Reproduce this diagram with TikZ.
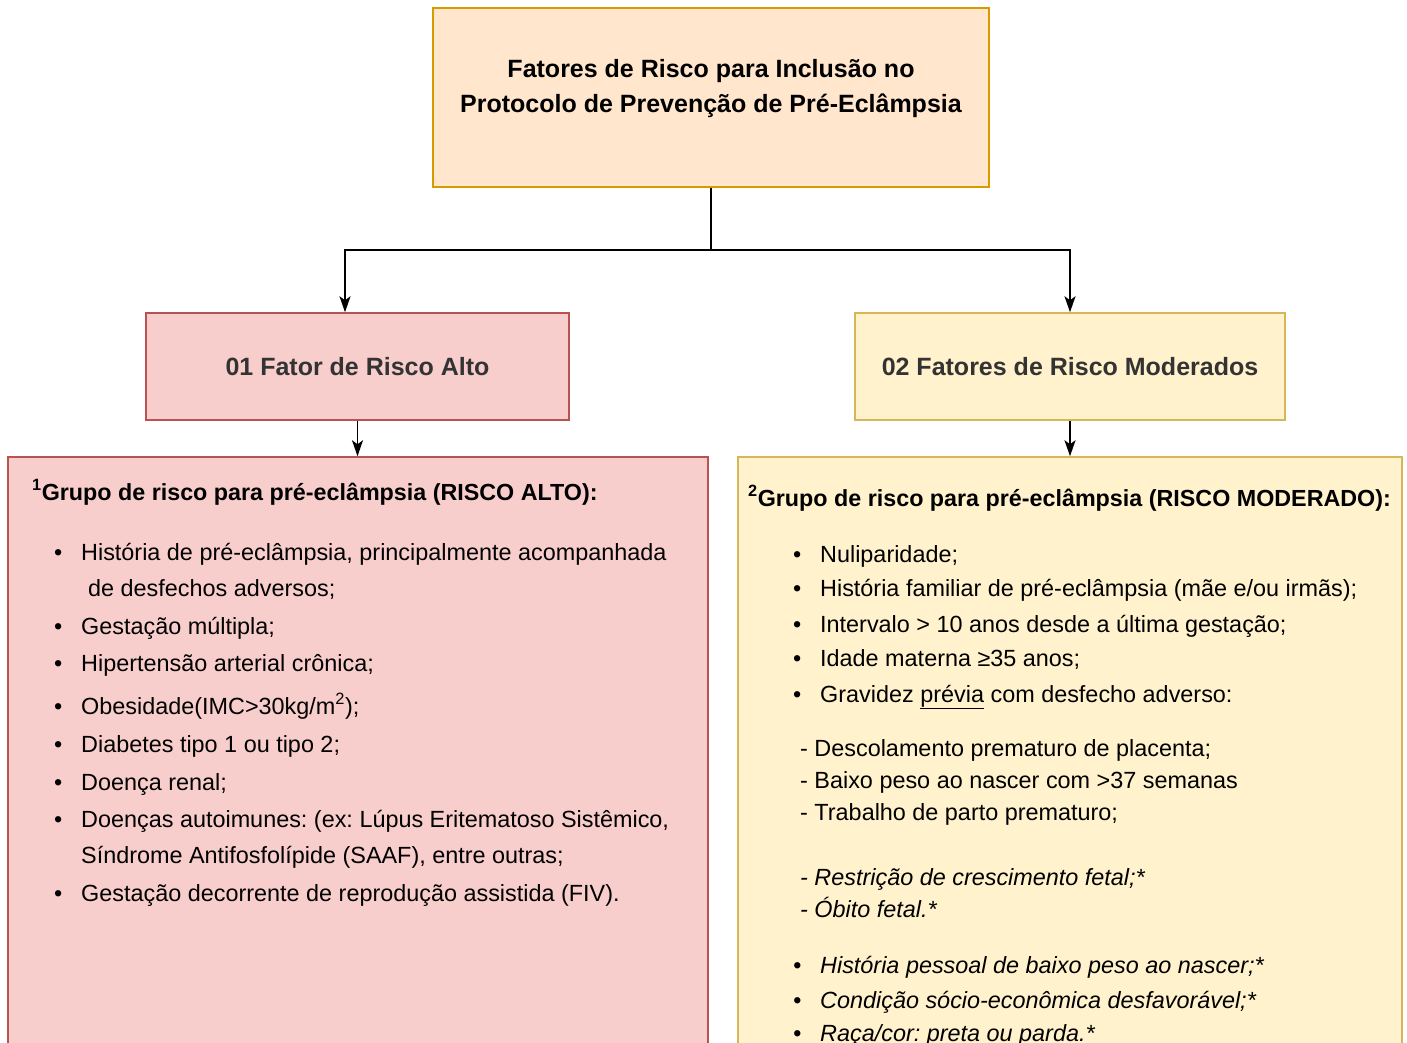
\documentclass[tikz,border=0pt]{standalone}
\usepackage{fontspec}
\setmainfont{Liberation Sans}
\usetikzlibrary{positioning,calc,arrows.meta}

\definecolor{titleFill}{HTML}{FFE6CC}
\definecolor{titleDraw}{HTML}{D79B00}
\definecolor{altoFill}{HTML}{F8CECC}
\definecolor{altoDraw}{HTML}{B85450}
\definecolor{modFill}{HTML}{FFF2CC}
\definecolor{modDraw}{HTML}{D6B656}
\definecolor{labelGray}{HTML}{333333}

\newcommand{\bul}{\makebox[27pt][l]{•}}
\frenchspacing

\tikzset{
  box/.style={draw, line width=1.5pt, inner sep=0pt},
  topbox/.style={box, draw=titleDraw, fill=titleFill},
  altobox/.style={box, draw=altoDraw, fill=altoFill},
  modbox/.style={box, draw=modDraw, fill=modFill},
  head/.style={font=\fontsize{25}{35}\selectfont\bfseries},
  item/.style={anchor=base west, inner sep=0pt, font=\fontsize{23.4}{30}\selectfont},
  itemhead/.style={item, font=\fontsize{23.3}{30}\selectfont\bfseries},
  itemit/.style={item, font=\fontsize{23.4}{30}\selectfont\itshape},
  arr/.style={-{Stealth[length=16pt,width=11pt,inset=4pt]}, line width=1.7pt}
}

\begin{document}
\begin{tikzpicture}[x=1pt,y=-1pt]
    \useasboundingbox (0,0) rectangle (1407,1042);
    \clip (0,0) rectangle (1407,1042);

    % boxes
    \node[topbox, minimum width=556pt, minimum height=179pt] (top) at (711,97.5) {};
    \node[head, align=center] (topT) at (711,89) {Fatores de Risco para Inclusão no\\Protocolo de Prevenção de Pré-Eclâmpsia};
    \node[altobox, head, text=labelGray, minimum width=423pt, minimum height=107pt] (alto) at (357.5,366.5) {01 Fator de Risco Alto};
    \node[modbox, head, text=labelGray, minimum width=430pt, minimum height=107pt] (mod) at (1070,366.5) {02 Fatores de Risco Moderados};
    \node[altobox, minimum width=700pt, minimum height=643pt] (altoL) at (358,778.5) {};
    \node[modbox, minimum width=664pt, minimum height=643pt] (modL) at (1070,778.5) {};

    % connectors
    \coordinate (fork) at (711,250);
    \draw[line width=1.7pt] (top.south) -- (fork);
    \draw[arr] (fork) -| ([xshift=-12.5pt]alto.north);
    \draw[arr] (fork) -| (mod.north);
    \draw[arr] (alto.south) -- (alto.south |- altoL.north);
    \draw[arr] (mod.south) -- (modL.north);

    % high risk list
    \node[itemhead] (a0) at (32,500) {\textsuperscript{1}Grupo de risco para pré-eclâmpsia (RISCO ALTO):};
    \node[item] (a1) at (54,560) {\bul História de pré-eclâmpsia, principalmente acompanhada};
    \node[item] (a1b) at (88,596) {de desfechos adversos;};
    \node[item] (a2) at (54,634) {\bul Gestação múltipla;};
    \node[item] (a3) at (54,671) {\bul Hipertensão arterial crônica;};
    \node[item] (a4) at (54,714) {\bul Obesidade(IMC>30kg/m\textsuperscript{2});};
    \node[item] (a5) at (54,752) {\bul Diabetes tipo 1 ou tipo 2;};
    \node[item] (a6) at (54,790) {\bul Doença renal;};
    \node[item] (a7) at (54,827) {\bul Doenças autoimunes: (ex: Lúpus Eritematoso Sistêmico,};
    \node[item] (a7b) at (81,863) {Síndrome Antifosfolípide (SAAF), entre outras;};
    \node[item] (a8) at (54,901) {\bul Gestação decorrente de reprodução assistida (FIV).};

    % moderate risk list
    \node[itemhead] (m0) at (748,506) {\textsuperscript{2}Grupo de risco para pré-eclâmpsia (RISCO MODERADO):};
    \node[item] (m1) at (793,562) {\bul Nuliparidade;};
    \node[item] (m2) at (793,596) {\bul História familiar de pré-eclâmpsia (mãe e/ou irmãs);};
    \node[item] (m3) at (793,632) {\bul Intervalo > 10 anos desde a última gestação;};
    \node[item] (m4) at (793,666) {\bul Idade materna ≥35 anos;};
    \node[item] (m5) at (793,702) {\bul Gravidez \underline{prévia} com desfecho adverso:};
    \node[item] (m6) at (800,756) {- Descolamento prematuro de placenta;};
    \node[item] (m7) at (800,788) {- Baixo peso ao nascer com >37 semanas};
    \node[item] (m8) at (800,820) {- Trabalho de parto prematuro;};
    \node[itemit] (m9) at (800,885) {- Restrição de crescimento fetal;*};
    \node[itemit] (m10) at (800,917) {- Óbito fetal.*};
    \node[itemit] (m11) at (793,973) {\bul História pessoal de baixo peso ao nascer;*};
    \node[itemit] (m12) at (793,1008) {\bul Condição sócio-econômica desfavorável;*};
    \node[itemit] (m13) at (793,1041) {\bul Raça/cor: preta ou parda.*};
\end{tikzpicture}
\end{document}
